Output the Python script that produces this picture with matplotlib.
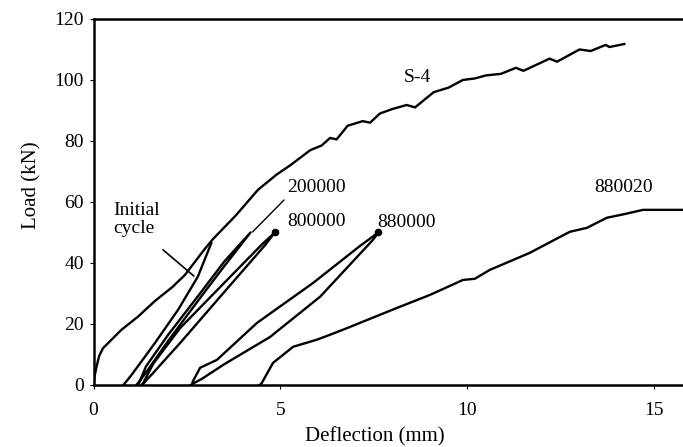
import matplotlib.pyplot as plt

# Load-deflection data (mm, kN)
s4_x = [0, 0.03, 0.08, 0.15, 0.25, 0.74, 1.2, 1.64, 2.1, 2.44, 2.97, 3.2, 3.8, 4.4,
        4.9, 5.26, 5.8, 6.1, 6.33, 6.5, 6.8, 7.2, 7.4, 7.66, 8.0, 8.38, 8.6, 9.1,
        9.5, 9.88, 10.2, 10.5, 10.9, 11.3, 11.5, 12.2, 12.4, 13.0, 13.3, 13.7, 13.8, 14.2]
s4_y = [0, 3, 6, 9.5, 12, 18, 22.5, 27.5, 32, 36, 44.5, 47.9, 55.5, 64,
        69, 72, 77, 78.5, 81, 80.5, 85, 86.5, 86, 89, 90.5, 91.8, 91, 96,
        97.5, 100, 100.5, 101.5, 102, 104, 103, 107, 106, 110, 109.5, 111.5, 110.8, 111.8]

# initial cycle unloading branch
init_x = [3.15, 2.79, 2.26, 1.64, 1.3, 1.0, 0.8]
init_y = [46.5, 35.5, 24.6, 13.7, 8, 3, 0]

# loops after N cycles (load branch + unload branch)
c200k_x = [1.15, 1.4, 2.0, 2.85, 3.5, 4.2, 3.5, 2.85, 2.0, 1.4, 1.2]
c200k_y = [0, 4, 14.5, 28.5, 39, 50, 40.5, 30, 16.5, 6, 0]

c800k_x = [1.3, 1.6, 2.32, 3.5, 4.6, 4.85, 4.5, 3.5, 2.32, 1.6, 1.3]
c800k_y = [0, 4, 13.8, 30.5, 46, 50, 46, 33.5, 18.7, 7, 0]

c880k_x = [2.6, 2.9, 3.5, 4.72, 6.06, 7.47, 7.62, 7.1, 5.87, 4.37, 3.3, 2.85, 2.65]
c880k_y = [0, 2, 6.8, 15.7, 28.9, 47.5, 50, 45.3, 33.4, 20.3, 8.2, 5.6, 1]

c880020_x = [4.45, 4.5, 4.8, 5.34, 5.97, 6.32, 6.8, 7.2, 8.11, 9.0, 9.88, 10.2, 10.6,
             11.67, 12.74, 13.2, 13.73, 14.2, 14.7, 15.76]
c880020_y = [0, 0.6, 7.2, 12.5, 14.8, 16.4, 18.7, 20.7, 25.2, 29.5, 34.4, 34.8, 37.7,
             43.3, 50.2, 51.5, 54.8, 56, 57.4, 57.4]

peaks_x = [4.85, 7.62]
peaks_y = [50, 50]

labels = ['S-4', '200000', '800000', '880000', '880020']
label_x = [8.65, 5.17, 5.17, 7.6, 13.4]
label_y = [100.7, 64.6, 53.5, 53.4, 64.6]

plt.rcParams['font.family'] = ['Liberation Serif', 'DejaVu Serif']

fig = plt.figure(figsize=(6.83, 4.47), dpi=100)
ax = fig.add_axes([0.137, 0.139, 0.863, 0.8185])

lw = 1.7
for xs, ys in [(s4_x, s4_y), (init_x, init_y), (c200k_x, c200k_y),
               (c800k_x, c800k_y), (c880k_x, c880k_y), (c880020_x, c880020_y)]:
    ax.plot(xs, ys, color='black', lw=lw, solid_joinstyle='round')
ax.plot(peaks_x, peaks_y, 'o', color='black', ms=4.5)

for i in range(len(labels)):
    ax.text(label_x[i], label_y[i], labels[i], fontsize=14, va='center',
            ha='center' if labels[i] == 'S-4' else 'left')

ax.text(0.52, 54.3, 'Initial\ncycle', fontsize=14, va='center', ha='left',
        linespacing=1.05)
ax.annotate('', xy=(2.74, 35.1), xytext=(1.8, 44.9),
            arrowprops=dict(arrowstyle='-', color='black', lw=1.2))
ax.annotate('', xy=(4.2, 49.5), xytext=(5.15, 61.3),
            arrowprops=dict(arrowstyle='-', color='black', lw=1.0))

ax.set_xlim(0, 15.77)
ax.set_ylim(0, 120)
ax.set_xticks([0, 5, 10, 15])
ax.set_yticks([0, 20, 40, 60, 80, 100, 120])
ax.tick_params(axis='x', direction='out', length=3, pad=9, labelsize=14)
ax.tick_params(axis='y', direction='out', length=3, pad=4, labelsize=14)

ax.spines['right'].set_visible(False)
for side in ['left', 'top', 'bottom']:
    ax.spines[side].set_linewidth(1.8)

ax.set_xlabel('Deflection (mm)', fontsize=15)
ax.set_ylabel('Load (kN)', fontsize=15)
ax.xaxis.set_label_coords(0.477, -0.115)
ax.yaxis.set_label_coords(-0.088, 0.546)

plt.savefig('out.png', dpi=100)
